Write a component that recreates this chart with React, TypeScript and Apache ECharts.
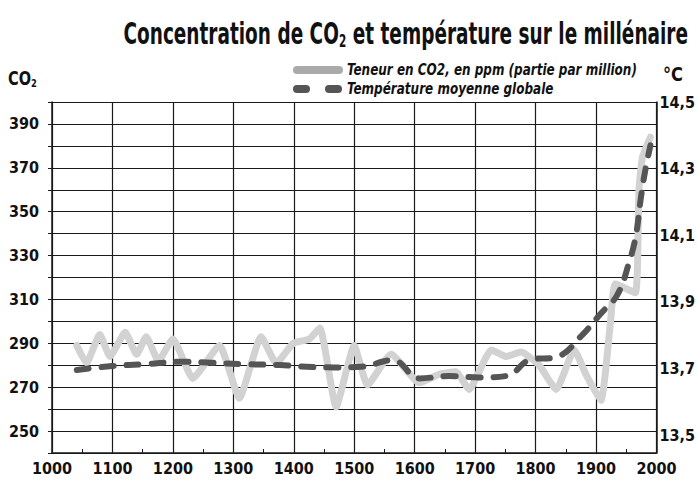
import React, { useEffect, useRef } from "react";
import * as echarts from "echarts";

const F = "'DejaVu Sans Condensed', 'DejaVu Sans', sans-serif";

// CO2 concentration (ppm)
const co2Years = [1041, 1057, 1079, 1096, 1121, 1140, 1156, 1176, 1200, 1233, 1277, 1310, 1346, 1371, 1399, 1426, 1443, 1470, 1500, 1522, 1561, 1608, 1641, 1668, 1690, 1727, 1751, 1776, 1806, 1834, 1864, 1883, 1908, 1924, 1932, 1965, 1971, 1977, 1990];
const co2Values = [289, 281, 294, 284, 295, 285, 293, 282, 292, 274, 289, 265, 293, 281, 290, 292, 297, 261, 289, 271, 285, 272, 276, 277, 269, 287, 284, 286, 280, 269, 287, 276, 264, 300, 317, 313, 360, 375, 384];

// Global mean temperature (°C)
const tempYears = [1041, 1099, 1156, 1214, 1264, 1316, 1377, 1421, 1467, 1511, 1564, 1608, 1657, 1707, 1754, 1789, 1836, 1877, 1908, 1935, 1955, 1966, 1974, 1981, 1990];
const tempValues = [13.695, 13.707, 13.713, 13.72, 13.717, 13.713, 13.71, 13.705, 13.703, 13.705, 13.725, 13.67, 13.677, 13.673, 13.678, 13.725, 13.735, 13.8, 13.865, 13.92, 14.02, 14.1, 14.21, 14.29, 14.37];

const co2TickLabels = [250, 270, 290, 310, 330, 350, 370, 390];
const tempTickLabels = [13.5, 13.7, 13.9, 14.1, 14.3, 14.5];

const titlePlain = "Concentration de CO2 et température sur le millénaire";
const titleRich = "Concentration de CO{sub|2} et température sur le millénaire";
const legendCo2 = "Teneur en CO2, en ppm (partie par million)";
const legendTemp = "Température moyenne globale";

function measure(text: string, font: string): number {
  const c = document.createElement("canvas").getContext("2d");
  if (!c) return text.length * 10;
  c.font = font;
  return c.measureText(text).width;
}

export default function App() {
  const ref = useRef<HTMLDivElement>(null);
  useEffect(() => {
    if (!ref.current) return;
    const chart = echarts.init(ref.current, null, { renderer: "svg" });
    const lineCol = "#1a1a1a";
    const labelStyle = { fontFamily: F, fontWeight: "bold" as const, fontSize: 16, color: "#111" };

    const titleFont = `bold 30px ${F}`;
    const titleScale = 570 / measure(titlePlain, titleFont);
    const legFont = `italic bold 15px ${F}`;
    const legScale = 290 / measure(legendCo2, legFont);

    chart.setOption({
      animation: false,
      backgroundColor: "#fff",
      grid: { left: 52, right: 41, top: 102, bottom: 27 },
      xAxis: {
        type: "value",
        min: 1000,
        max: 2000,
        interval: 100,
        axisLine: { show: true, lineStyle: { color: lineCol, width: 1.5 } },
        axisTick: { show: true, inside: true, length: 4, lineStyle: { color: lineCol } },
        minorTick: { show: true, splitNumber: 2, length: 4, lineStyle: { color: lineCol } },
        splitLine: { show: true, lineStyle: { color: lineCol, width: 1.2 } },
        axisLabel: { ...labelStyle, margin: 7, formatter: (v: number) => String(v) },
      },
      yAxis: [
        {
          type: "value",
          min: 240,
          max: 400,
          interval: 10,
          position: "left",
          axisLine: { show: true, lineStyle: { color: lineCol, width: 1.5 } },
          axisTick: { show: true, length: 4, lineStyle: { color: lineCol } },
          splitLine: { show: true, lineStyle: { color: lineCol, width: 1.2 } },
          axisLabel: {
            ...labelStyle,
            margin: 13,
            formatter: (v: number) => (co2TickLabels.indexOf(Math.round(v)) >= 0 ? String(Math.round(v)) : ""),
          },
        },
        {
          type: "value",
          min: 13.446,
          max: 14.5,
          position: "right",
          axisLine: { show: true, lineStyle: { color: lineCol, width: 1.5 } },
          axisTick: { show: false },
          splitLine: { show: false },
          axisLabel: {
            ...labelStyle,
            margin: 3,
            customValues: tempTickLabels,
            formatter: (v: number) => v.toFixed(1).replace(".", ","),
          },
        },
      ],
      series: [
        {
          type: "line",
          name: legendCo2,
          yAxisIndex: 0,
          data: co2Years.map((y, i) => [y, co2Values[i]]),
          symbol: "none",
          smooth: 0.15,
          lineStyle: { color: "#d2d2d2", width: 7, cap: "round", join: "round" },
          z: 2,
        },
        {
          type: "line",
          name: legendTemp,
          yAxisIndex: 1,
          data: tempYears.map((y, i) => [y, tempValues[i]]),
          symbol: "none",
          smooth: 0.4,
          lineStyle: { color: "#555", width: 6, type: [12, 13], cap: "round", join: "round" },
          z: 3,
        },
      ],
      graphic: [
        {
          type: "text",
          x: 688,
          y: 33,
          scaleX: titleScale,
          style: {
            text: titleRich,
            fontFamily: F,
            fontWeight: "bold",
            fontSize: 30,
            lineHeight: 32,
            fill: "#111",
            align: "right",
            verticalAlign: "middle",
            rich: {
              sub: { fontFamily: F, fontWeight: "bold", fontSize: 17, lineHeight: 8, verticalAlign: "bottom", fill: "#111" },
            },
          },
        },
        { type: "line", shape: { x1: 297, y1: 70, x2: 339, y2: 70 }, style: { stroke: "#aaa", lineWidth: 8, lineCap: "round" } },
        { type: "line", shape: { x1: 297, y1: 89, x2: 306, y2: 89 }, style: { stroke: "#555", lineWidth: 8, lineCap: "round" } },
        { type: "line", shape: { x1: 329, y1: 89, x2: 338, y2: 89 }, style: { stroke: "#555", lineWidth: 8, lineCap: "round" } },
        {
          type: "text",
          x: 347,
          y: 70,
          scaleX: legScale,
          style: { text: legendCo2, font: legFont, fill: "#111", verticalAlign: "middle" },
        },
        {
          type: "text",
          x: 347,
          y: 89,
          scaleX: legScale,
          style: { text: legendTemp, font: legFont, fill: "#111", verticalAlign: "middle" },
        },
        {
          type: "text",
          x: 8,
          y: 79,
          scaleX: 0.85,
          style: {
            text: "CO{sub|2}",
            fontFamily: F,
            fontWeight: "bold",
            fontSize: 19,
            lineHeight: 20,
            fill: "#111",
            verticalAlign: "middle",
            rich: { sub: { fontFamily: F, fontWeight: "bold", fontSize: 11, lineHeight: 6, verticalAlign: "bottom", fill: "#111" } },
          },
        },
        {
          type: "text",
          x: 663,
          y: 74,
          scaleX: 0.9,
          style: { text: "°C", fontFamily: F, fontWeight: "bold", fontSize: 20, fill: "#111", verticalAlign: "middle" },
        },
      ],
    });
    return () => chart.dispose();
  }, []);
  return <div ref={ref} style={{ position: "fixed", left: 0, top: 0, width: 698, height: 480 }} />;
}
